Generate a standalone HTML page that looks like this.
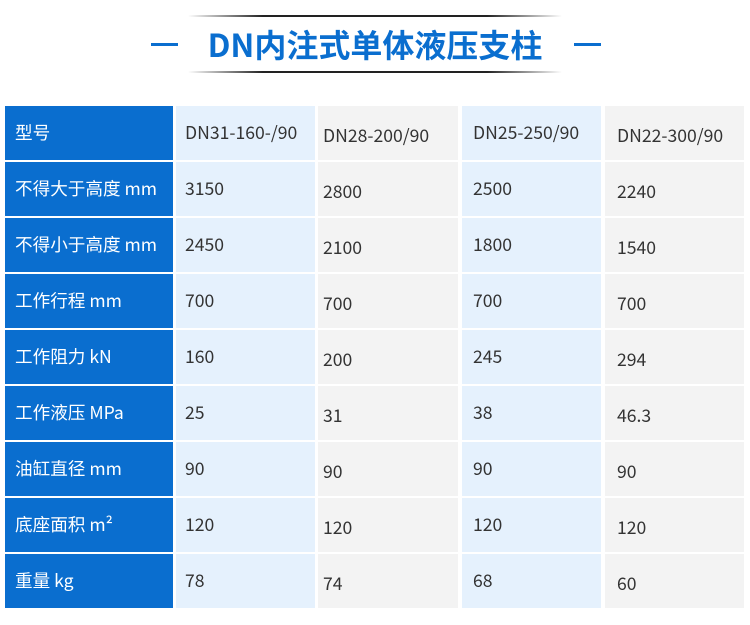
<!DOCTYPE html>
<html><head><meta charset="utf-8"><style>
body{margin:0;width:750px;height:625px;background:#fff;position:relative;overflow:hidden;font-family:"Noto Sans CJK SC","Liberation Sans",sans-serif}
.c{position:absolute;height:54px;box-sizing:border-box;font-size:17.6px;color:#333;white-space:nowrap}
.b{background:#0a6ecf;color:#fff}
.l{background:#e5f1fd}
.g{background:#f3f3f3}
.ln{position:absolute;left:188px;width:374px;height:2px;background:linear-gradient(90deg,#fff,#222 20%,#222 80%,#fff)}
.d{position:absolute;top:43px;height:3px;width:27px;background:#0a6ecf}
</style></head><body>
<div class="ln" style="top:15px"></div>
<div class="ln" style="top:71px"></div>
<div class="d" style="left:151px"></div>
<div class="d" style="left:574px"></div>
<div style="position:absolute;left:188px;width:374px;top:22px;text-align:center;font-size:32px;font-weight:bold;color:#0a6ecf;line-height:44px">DN内注式单体液压支柱</div>
<div id="t"></div>
<script>
var rows=[["型号","DN31-160-/90","DN28-200/90","DN25-250/90","DN22-300/90"],
["不得大于高度 mm","3150","2800","2500","2240"],
["不得小于高度 mm","2450","2100","1800","1540"],
["工作行程 mm","700","700","700","700"],
["工作阻力 kN","160","200","245","294"],
["工作液压 MPa","25","31","38","46.3"],
["油缸直径 mm","90","90","90","90"],
["底座面积 m²","120","120","120","120"],
["重量 kg","78","74","68","60"]];
var xs=[[5,168,'b',10],[176,139,'l',9],[318,140,'g',5],[462,139,'l',11],[605,139,'g',12]];
var h='';
rows.forEach(function(r,i){var y=106+i*56;
r.forEach(function(t,j){var x=xs[j];var off=(j==2||j==4)?3:0;
h+='<div class="c '+x[2]+'" style="left:'+x[0]+'px;top:'+y+'px;width:'+x[1]+'px;padding-left:'+x[3]+'px;padding-top:'+(off+2)+'px;line-height:50px">'+t+'</div>';});});
document.getElementById('t').innerHTML=h;
</script>
</body></html>
